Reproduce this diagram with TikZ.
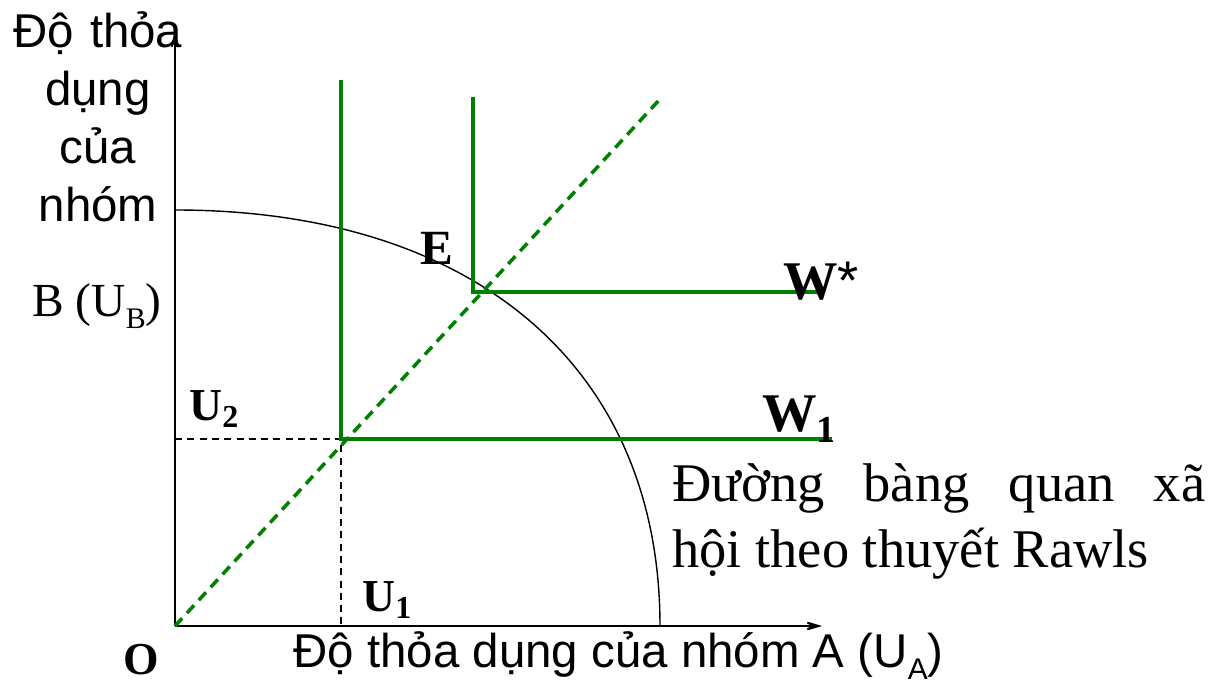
\documentclass[tikz,border=0pt]{standalone}
\usepackage{fontspec}
\setmainfont{Liberation Serif}
\setsansfont{Liberation Sans}
\usetikzlibrary{arrows.meta}
\definecolor{rawlsgreen}{RGB}{0,128,0}
\newcommand{\lowsub}[1]{\raisebox{-0.25em}{\fontsize{17}{17}\selectfont #1}}
\tikzset{
    axis/.style={line width=1.1pt,-{Stealth[length=5mm,width=3mm,inset=3mm]}},
    rawls/.style={rawlsgreen,line width=2pt},
    guide/.style={dash pattern=on 4pt off 3pt,line width=0.8pt},
    lbl/.style={font=\bfseries\fontsize{26}{30}\selectfont,inner sep=0pt},
    axlbl/.style={font=\sffamily\fontsize{27}{33}\selectfont,inner sep=0pt},
}
\begin{document}
\begin{tikzpicture}
        \useasboundingbox (-3.5,-1.16) rectangle (20.74,12.52);
        \coordinate (O) at (0,0);
        \coordinate (ytop) at (0,11.88);
        \coordinate (xend) at (12.94,0);
        \coordinate (utop) at (0,8.32);
        \coordinate (uright) at (9.7,0);
        \coordinate (diag) at (9.72,10.56);
        \coordinate (w1) at (3.32,3.74);
        \coordinate (w1top) at (3.32,10.92);
        \coordinate (w1end) at (13.14,3.74);
        \coordinate (ws) at (5.96,6.68);
        \coordinate (wstop) at (5.96,10.58);
        \coordinate (wsend) at (12.94,6.68);
        \draw [axis] (O) -- (ytop);
        \draw [axis] (O) -- (xend);
        \draw [line width=0.8pt] (utop) .. controls (6.01,8.32) and (9.7,5.16) .. (uright);
        \draw [rawls,dash pattern=on 6pt off 4pt] (O) -- (diag);
        \draw [guide] (w1 -| O) -- (w1) -- (w1 |- O);
        \draw [rawls] (w1top) -- (w1) -- (w1end);
        \draw [rawls] (wstop) -- (ws) -- (wsend);
        \node [axlbl,text width=5cm,align=center,anchor=base] (ylab) at (-1.54,11.56) {Độ thỏa\\dụng\\của\\nhóm};
        \node [font=\fontsize{27}{33}\selectfont,inner sep=0pt,anchor=base] (ub) at (-1.56,6.18) {B (U\lowsub{B})};
        \node [axlbl,anchor=base west] (xlab) at (2.36,-0.84) {Độ thỏa dụng của nhóm A (U\lowsub{\sffamily A})};
        \node [lbl,font=\bfseries\fontsize{28}{30}\selectfont,anchor=base] (E) at (5.24,7.22) {E};
        \node [lbl,font=\bfseries\fontsize{31}{33}\selectfont,anchor=base west] (Wstar) at (12.16,6.52) {W\textmd{\sffamily *}};
        \node [lbl,font=\bfseries\fontsize{31}{33}\selectfont,anchor=base west] (W1) at (11.74,3.88) {W\textsubscript{1}};
        \node [lbl,anchor=base west] (U2) at (0.28,4.1) {U\textsubscript{2}};
        \node [lbl,anchor=base west] (U1) at (3.74,0.28) {U\textsubscript{1}};
        \node [lbl,anchor=base] (O lbl) at (-0.68,-0.98) {O};
        \node [font=\fontsize{31}{37}\selectfont,inner sep=0pt,text width=10.66cm,align=justify,anchor=base west] (rawlstxt) at (9.94,2.48) {Đường bàng quan xã\linebreak hội theo thuyết Rawls};
\end{tikzpicture}
\end{document}
